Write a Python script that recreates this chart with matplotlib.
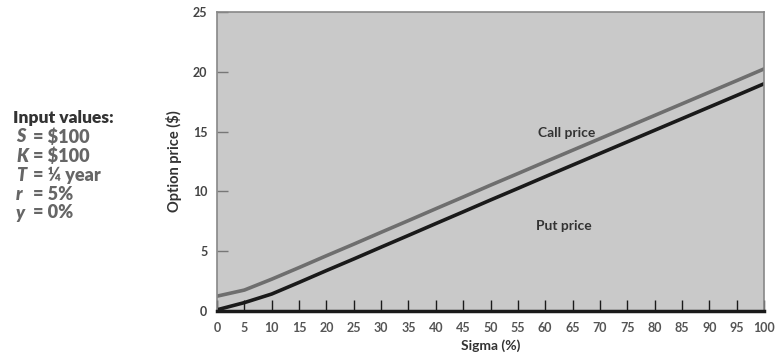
import matplotlib.pyplot as plt
import numpy as np

plt.rcParams['font.family'] = ['Lato', 'DejaVu Sans']

sigma = [0, 5, 10, 15, 20, 25, 30, 35, 40, 45, 50, 55, 60, 65, 70, 75, 80, 85, 90, 95, 100]
call_price = [1.24, 1.75, 2.66, 3.63, 4.62, 5.59, 6.58, 7.56, 8.55, 9.53, 10.52,
              11.49, 12.47, 13.44, 14.41, 15.38, 16.35, 17.32, 18.29, 19.26, 20.24]
put_price = [0.1, 0.7, 1.42, 2.39, 3.38, 4.35, 5.34, 6.32, 7.31, 8.29, 9.28,
             10.25, 11.23, 12.20, 13.17, 14.14, 15.11, 16.08, 17.05, 18.02, 19.00]
y_ticks = [0, 5, 10, 15, 20, 25]

W, H = 775, 360
fig = plt.figure(figsize=(W / 100, H / 100), dpi=100)
ax = fig.add_axes([217 / W, 49 / H, 547 / W, 299 / H])
ax.set_facecolor('#c9c9c9')

ax.plot(sigma, call_price, color='#6e6e6e', lw=2.6, solid_joinstyle='round')
ax.plot(sigma, put_price, color='#1a1a1a', lw=2.6, solid_joinstyle='round')

ax.set_xlim(0, 100)
ax.set_ylim(0, 25)
ax.set_xticks(sigma)
ax.set_yticks(y_ticks)

ax.tick_params(axis='x', direction='in', length=8, width=1, color='#1a1a1a',
               pad=8, labelsize=9, labelcolor='#555555')
ax.tick_params(axis='y', direction='in', length=8, width=1, color='#777777',
               pad=7, labelsize=9, labelcolor='#444444')
for lab in ax.get_xticklabels() + ax.get_yticklabels():
    lab.set_fontweight('bold')

for s in ['left', 'top', 'right']:
    ax.spines[s].set_color('#888888')
    ax.spines[s].set_linewidth(1.2)
ax.spines['bottom'].set_color('#1a1a1a')
ax.spines['bottom'].set_linewidth(2.5)

ax.set_xlabel('Sigma (%)', fontsize=10, fontweight='bold', color='#333333', labelpad=4)
ax.set_ylabel('Option price ($)', fontsize=10.5, fontweight='bold', color='#333333', labelpad=8)

ax.text(64, 14.9, 'Call price', fontsize=10, fontweight='bold', color='#333333',
        ha='center', va='center')
ax.text(63.5, 7.1, 'Put price', fontsize=10, fontweight='bold', color='#333333',
        ha='center', va='center')

fig.text(13 / W, 1 - 118 / H, 'Input values:', fontsize=12.5, fontweight='heavy',
         color='#333333', ha='left', va='center')
symbols = ['S', 'K', 'T', 'r', 'y']
values = ['= $100', '= $100', '= ¼ year', '= 5%', '= 0%']
rows = [137, 156, 175, 194, 213]
for sym, val, yy in zip(symbols, values, rows):
    fig.text(16 / W, 1 - yy / H, sym, fontsize=13, fontweight='heavy', style='italic',
             color='#666666', ha='left', va='center')
    fig.text(33 / W, 1 - yy / H, val, fontsize=13, fontweight='heavy',
             color='#666666', ha='left', va='center')

fig.savefig('out.png', dpi=100)
